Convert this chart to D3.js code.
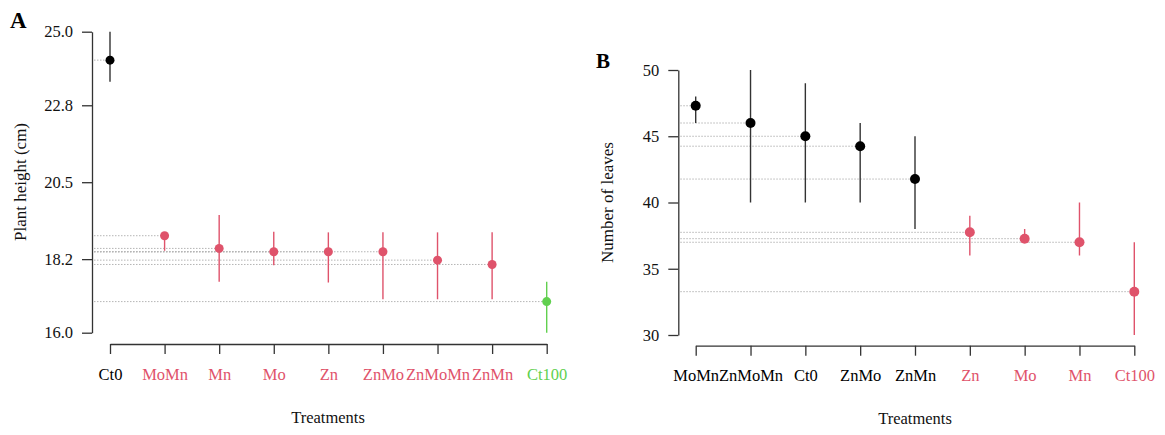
<!DOCTYPE html>
<html><head><meta charset="utf-8">
<script src="https://cdn.jsdelivr.net/npm/d3@7"></script>
<style>body{margin:0;background:#fff;} svg{display:block;} text{font-family:"Liberation Serif","Times New Roman",serif;}</style>
</head><body>
<svg id="c" width="1165" height="435"></svg>
<script>
// Panel A: plant height
const catsA = ["Ct0","MoMn","Mn","Mo","Zn","ZnMo","ZnMoMn","ZnMn","Ct100"];
const meanA = [24.15, 18.90, 18.52, 18.42, 18.42, 18.42, 18.17, 18.04, 16.93];
const loA   = [23.50, 18.45, 17.52, 18.02, 17.50, 17.00, 17.00, 17.00, 16.00];
const hiA   = [25.00, 18.90, 19.52, 19.02, 19.00, 19.00, 19.00, 19.00, 17.52];
const grpA  = [0,1,1,1,1,1,1,1,2];
const ticksA = [16.0, 18.2, 20.5, 22.8, 25.0];

// Panel B: number of leaves
const catsB = ["MoMn","ZnMoMn","Ct0","ZnMo","ZnMn","Zn","Mo","Mn","Ct100"];
const meanB = [47.30, 46.00, 45.00, 44.25, 41.77, 37.75, 37.27, 37.00, 33.27];
const loB   = [46.00, 40.00, 40.00, 40.00, 38.00, 36.00, 37.27, 36.00, 30.00];
const hiB   = [48.00, 50.00, 49.00, 46.00, 45.00, 39.00, 38.00, 40.00, 37.00];
const grpB  = [0,0,0,0,0,1,1,1,1];
const ticksB = [30, 35, 40, 45, 50];

const palette = ["#000000", "#DF536B", "#61D04F"];
const svg = d3.select("#c");

function panel(o) {
  const g = svg.append("g");
  const y = d3.scaleLinear().domain(o.ydom).range(o.yr);
  const x = d3.scalePoint().domain(o.cats).range(o.xr);
  const col = i => palette[o.grp[i]];

  // dotted reference lines
  g.selectAll("line.ref").data(o.mean).join("line")
    .attr("x1", o.ax + 2).attr("x2", (d,i) => x(o.cats[i]))
    .attr("y1", d => y(d)).attr("y2", d => y(d))
    .attr("stroke", "#b5b5b5").attr("stroke-width", 1).attr("stroke-dasharray", "1.5,1.5");

  // y axis
  const ya = g.append("g").attr("transform", `translate(${o.ax},0)`)
    .call(d3.axisLeft(y).tickValues(o.ticks).tickFormat(o.fmt).tickSize(10).tickSizeOuter(0).tickPadding(9));
  // x axis
  const xa = g.append("g").attr("transform", `translate(0,${o.ay})`)
    .call(d3.axisBottom(x).tickSize(10).tickSizeOuter(0).tickPadding(14));
  [ya, xa].forEach(a => {
    a.select(".domain").attr("stroke", "#333").attr("stroke-width", 1.3);
    a.selectAll(".tick line").attr("stroke", "#333").attr("stroke-width", 1.3);
    a.selectAll("text").attr("font-size", 16.5).attr("font-family", "Liberation Serif, serif");
  });
  ya.selectAll("text").attr("fill", "#111");
  xa.selectAll(".tick text").attr("fill", (d) => col(o.cats.indexOf(d))).attr("dy", "0.71em");

  // error bars
  g.selectAll("line.err").data(o.mean).join("line")
    .attr("x1", (d,i) => x(o.cats[i])).attr("x2", (d,i) => x(o.cats[i]))
    .attr("y1", (d,i) => y(o.lo[i])).attr("y2", (d,i) => y(o.hi[i]))
    .attr("stroke", (d,i) => o.grp[i] === 0 ? "#333" : col(i)).attr("stroke-width", 1.4);
  // points
  g.selectAll("circle").data(o.mean).join("circle")
    .attr("cx", (d,i) => x(o.cats[i])).attr("cy", d => y(d)).attr("r", o.r)
    .attr("fill", (d,i) => col(i));

  // axis titles
  g.append("text").attr("x", o.xt).attr("y", o.yt).attr("text-anchor", "middle")
    .attr("font-size", 16.5).attr("fill", "#111").text("Treatments");
  g.append("text").attr("transform", `translate(${o.ylx},${o.yly}) rotate(-90)`)
    .attr("text-anchor", "middle").attr("font-size", 17).attr("fill", "#111").text(o.ylab);
  g.append("text").attr("x", o.px).attr("y", o.py).attr("font-size", o.ps)
    .attr("font-weight", "bold").attr("fill", "#000").text(o.plab);
}

panel({cats: catsA, mean: meanA, lo: loA, hi: hiA, grp: grpA, ticks: ticksA,
  fmt: d3.format(".1f"), ydom: [16, 25], yr: [332.7, 31.7], xr: [110, 546.7],
  ax: 92, ay: 344, r: 4.5, xt: 328, yt: 423, ylx: 26, yly: 182, ylab: "Plant height (cm)",
  px: 10, py: 28, ps: 23, plab: "A"});

panel({cats: catsB, mean: meanB, lo: loB, hi: hiB, grp: grpB, ticks: ticksB,
  fmt: d3.format("d"), ydom: [30, 50], yr: [335, 70], xr: [695.7, 1134.3],
  ax: 678.3, ay: 345.7, r: 5, xt: 915, yt: 424, ylx: 613, yly: 202.5, ylab: "Number of leaves",
  px: 596, py: 68, ps: 21, plab: "B"});
</script>
</body></html>
